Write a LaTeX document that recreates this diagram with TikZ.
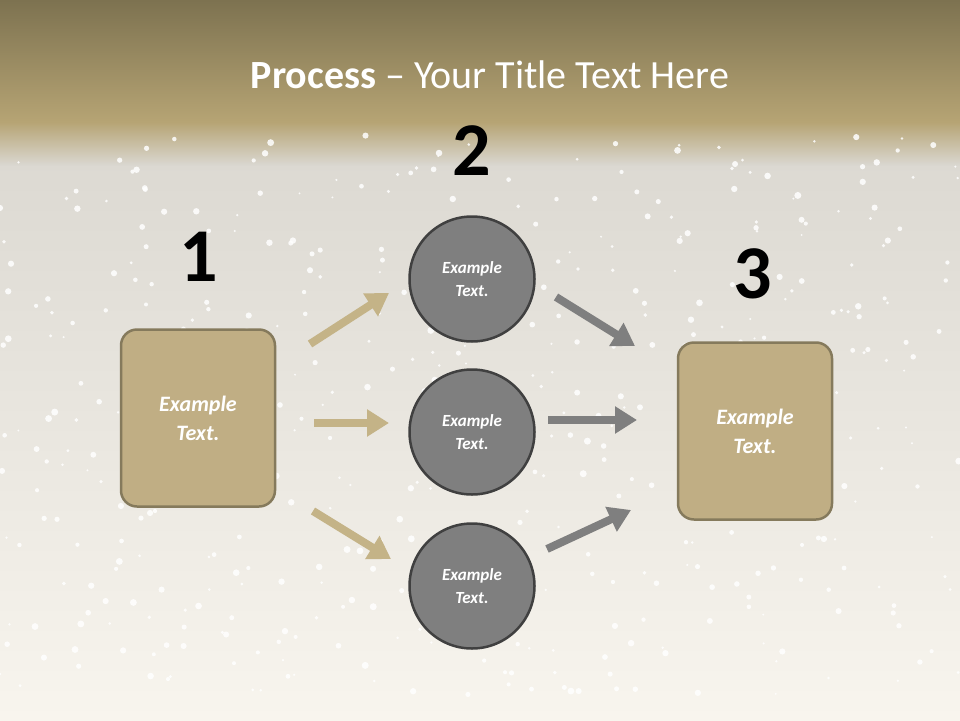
\documentclass[tikz,border=0pt]{standalone}
\usepackage{fontspec}
\setmainfont{Carlito}
\usetikzlibrary{arrows.meta}
\definecolor{tan}{HTML}{C0AE84}
\definecolor{tanedge}{HTML}{857A5C}
\definecolor{tanarrow}{HTML}{C4B387}
\definecolor{grayfill}{HTML}{7F7F7F}
\definecolor{grayedge}{HTML}{404040}
\definecolor{grayarrow}{HTML}{7F7F7F}
\definecolor{bgtop}{HTML}{DAD7D0}
\definecolor{bgmid}{HTML}{EAE5D8}
\definecolor{bgbot}{HTML}{F8F5EE}
\tikzset{
  box/.style={draw=tanedge,line width=2.5pt,fill=tan,rounded corners=16pt,minimum width=154pt,minimum height=177pt,text=white,font=\bfseries\itshape\fontsize{22}{29}\selectfont,align=center},
  circ/.style={circle,draw=grayedge,line width=2.5pt,fill=grayfill,minimum size=125pt,text=white,font=\bfseries\itshape\fontsize{17}{23}\selectfont,align=center},
  num/.style={font=\bfseries\fontsize{76}{76}\selectfont,text=black},
  tarr/.style={line width=8pt,draw=tanarrow,-{Triangle[length=22pt,width=26pt]}},
  garr/.style={line width=8pt,draw=grayarrow,-{Triangle[length=22pt,width=26pt]}}
}
\begin{document}
\begin{tikzpicture}[x=1pt,y=-1pt]
\useasboundingbox (0,0) rectangle (960,720);
\shade[top color=bgtop,middle color=bgmid,bottom color=bgbot] (0,120) rectangle (960,720);
\shade[top color={rgb,255:red,125;green,114;blue,80},bottom color={rgb,255:red,182;green,164;blue,116}] (0,0) rectangle (960,122);
\shade[top color={rgb,255:red,182;green,164;blue,116},bottom color=bgtop] (0,122) rectangle (960,165);
\pgfmathsetseed{7}
\foreach \i in {1,...,500}{
  \pgfmathsetmacro{\xx}{rnd*960}\pgfmathsetmacro{\yy}{135+rnd*560}\pgfmathsetmacro{\rr}{1+rnd*2.5}
  \fill[white,opacity=0.85] (\xx,\yy) circle (\rr);
}
\node[text=white,font=\fontsize{40}{44}\selectfont] (title) at (490,75) {\textbf{Process} – Your Title Text Here};
\node[num] (n1) at (199,257) {1};
\node[num] (n2) at (472,151) {2};
\node[num] (n3) at (753,274) {3};
\node[box] (b1) at (198,418) {Example\\Text.};
\node[box] (b3) at (755,431) {Example\\Text.};
\node[circ] (c1) at (472,279) {Example\\Text.};
\node[circ] (c2) at (472,432) {Example\\Text.};
\node[circ] (c3) at (472,586) {Example\\Text.};
\coordinate (a1s) at (310,344); \coordinate (a1e) at (389,293);
\coordinate (a2s) at (314,423); \coordinate (a2e) at (389,423);
\coordinate (a3s) at (313,511); \coordinate (a3e) at (391,559);
\coordinate (g1s) at (556,297); \coordinate (g1e) at (635,346);
\coordinate (g2s) at (548,420); \coordinate (g2e) at (637,420);
\coordinate (g3s) at (547,549); \coordinate (g3e) at (631,510);
\draw[tarr] (a1s) -- (a1e);
\draw[tarr] (a2s) -- (a2e);
\draw[tarr] (a3s) -- (a3e);
\draw[garr] (g1s) -- (g1e);
\draw[garr] (g2s) -- (g2e);
\draw[garr] (g3s) -- (g3e);
\end{tikzpicture}
\end{document}
